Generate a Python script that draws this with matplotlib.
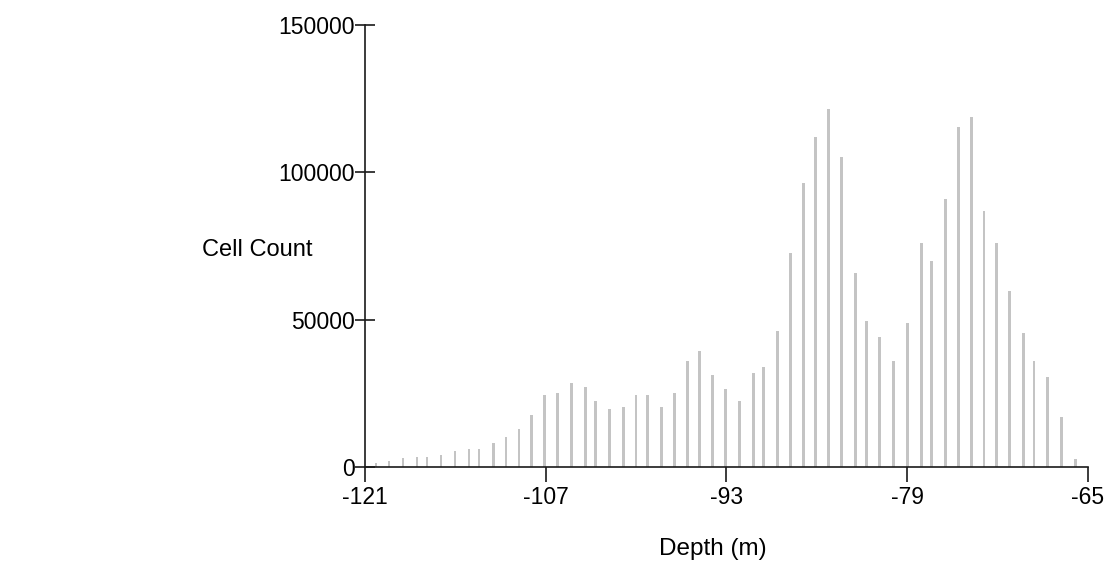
import matplotlib
matplotlib.use('Agg')
import matplotlib.pyplot as plt

plt.rcParams['font.family'] = ['Liberation Sans', 'DejaVu Sans']

# depth of each bar (m) and the cell count in it
depths = [-120.15, -119.14, -118.06, -116.97, -116.20, -115.11, -114.03, -112.94, -112.17,
          -111.06, -110.08, -109.07, -108.12, -107.11, -106.10, -105.02, -103.94, -103.16,
          -102.08, -100.99, -100.01, -99.13, -98.05, -97.04, -96.03, -95.11, -94.10,
          -93.06, -92.01, -90.92, -90.15, -89.06, -88.06, -87.05, -86.10, -85.10, -84.11,
          -83.02, -82.15, -81.16, -80.06, -78.99, -77.88, -77.10, -76.03, -75.03,
          -74.00, -73.05, -72.07, -71.08, -69.99, -69.18, -68.12, -67.03, -65.95]
counts = [1460, 2140, 2950, 3500, 3500, 4170, 5530, 6210, 6210,
          8250, 10280, 13000, 17750, 24530, 25210, 28600, 27250, 22500,
          19780, 20460, 24530, 24530, 20460, 25210, 36070, 39460, 31320,
          26570, 22500, 32000, 34040, 46250, 72720, 96470, 112080, 121580, 105290,
          65930, 49640, 44210, 36070, 48960, 76110, 70000, 91040, 115470,
          118870, 86970, 76110, 59820, 45570, 36070, 30640, 17070, 2820]

x_ticks = [-121, -107, -93, -79, -65]
y_ticks = [0, 50000, 100000, 150000]

fig = plt.figure(figsize=(11.09, 5.65), dpi=100)
ax = fig.add_axes([0.3291, 0.1735, 0.6519, 0.7823])

ax.bar(depths, counts, width=0.2, color='#c4c4c4', align='center')

ax.set_xlim(-121, -65)
ax.set_ylim(0, 150000)
ax.set_xticks(x_ticks)
ax.set_xticklabels([str(t) for t in x_ticks])
ax.set_yticks(y_ticks)
ax.set_yticklabels([str(t) for t in y_ticks])

for side in ['top', 'right']:
    ax.spines[side].set_visible(False)
for side in ['left', 'bottom']:
    ax.spines[side].set_linewidth(1.2)
    ax.spines[side].set_color('#1a1a1a')

ax.tick_params(axis='y', direction='inout', length=14.4, width=1.2, pad=0,
               labelsize=16.5, color='#1a1a1a')
ax.tick_params(axis='x', direction='out', length=10.5, width=1.2, pad=3,
               labelsize=16.5, color='#1a1a1a')

ax.set_xlabel('Depth (m)', fontsize=17.5)
ax.xaxis.set_label_coords(0.481, -0.16)
ax.set_ylabel('Cell Count', fontsize=17, rotation=0, ha='center', va='center')
ax.yaxis.set_label_coords(-0.149, 0.49)

fig.savefig('out.png', dpi=100)
